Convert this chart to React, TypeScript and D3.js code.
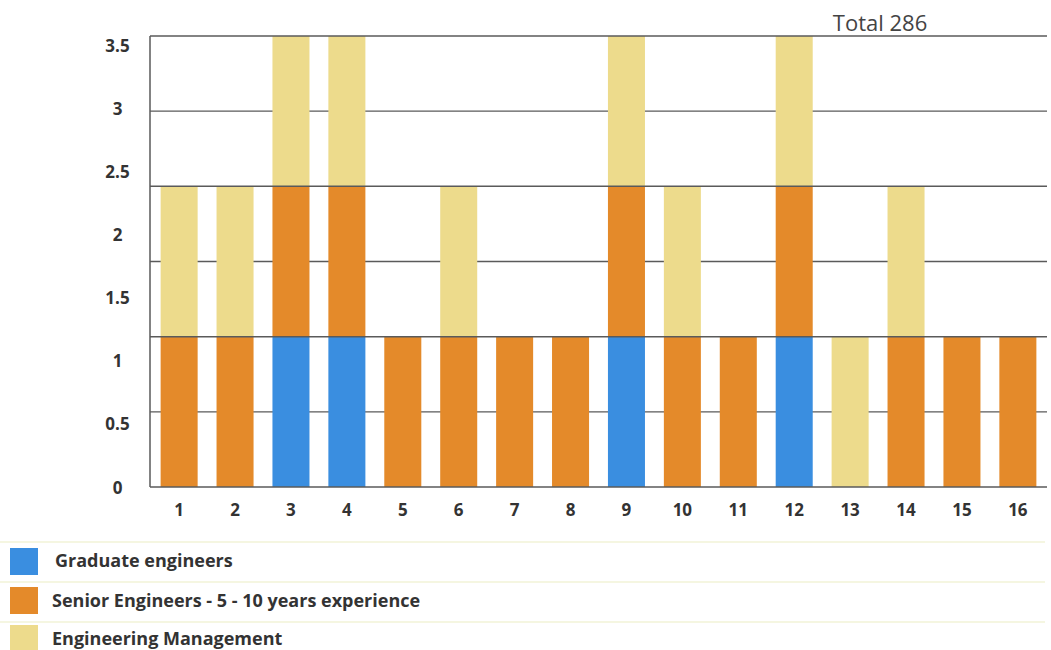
import React from "react";
import * as d3 from "d3";

// Engineers per project, stacked by role
const categories = ["1", "2", "3", "4", "5", "6", "7", "8", "9", "10", "11", "12", "13", "14", "15", "16"];
const graduate = [0, 0, 1, 1, 0, 0, 0, 0, 1, 0, 0, 1, 0, 0, 0, 0];
const senior = [1, 1, 1, 1, 1, 1, 1, 1, 1, 1, 1, 1, 0, 1, 1, 1];
const management = [1, 1, 1, 1, 0, 1, 0, 0, 1, 1, 0, 1, 1, 1, 0, 0];

const seriesKeys = ["graduate", "senior", "management"];
const seriesNames = ["Graduate engineers", "Senior Engineers - 5 - 10 years experience", "Engineering Management"];
const seriesColors = ["#3a8ee0", "#e48a2a", "#eddb8c"];

const yTickLabels = [0, 0.5, 1, 1.5, 2, 2.5, 3, 3.5];
const gridValues = [0, 0.5, 1, 1.5, 2, 2.5, 3];
const totalLabel = "Total 286";

const W = 1051;
const H = 650;
const left = 150;
const right = 1047;
const bottom = 487;
const top = 36;

const FONT = "'Open Sans', Roboto, 'DejaVu Sans', sans-serif";

export default function App() {
  const rows = categories.map((c, i) => ({
    cat: c,
    graduate: graduate[i],
    senior: senior[i],
    management: management[i],
  }));
  const stacked = d3.stack<any>().keys(seriesKeys)(rows);

  const x = d3.scaleBand().domain(categories).range([left, right]).paddingInner(0.338).paddingOuter(0.19);
  const y = d3.scaleLinear().domain([0, 3]).range([bottom, top]);
  const yLabel = d3.scaleLinear().domain([0, 3.5]).range([bottom, 45]);

  const halfLines = gridValues.filter((v) => v % 1 !== 0);
  const wholeLines = gridValues.filter((v) => v % 1 === 0);

  const legendTop = [548, 587, 625];
  const legendText = [567, 607, 645];
  const legendTextX = [55, 52, 52];
  const separators = [542, 582, 622];

  return (
    <svg width={W} height={H} style={{ position: "absolute", left: 0, top: 0, background: "#ffffff" }}>
      {/* half-step gridlines sit behind the bars */}
      {halfLines.map((v) => (
        <line key={"h" + v} x1={left} x2={right} y1={y(v)} y2={y(v)} stroke="#5a5a5a" strokeWidth={1.4} />
      ))}
      {stacked.map((s, si) => (
        <g key={s.key} fill={seriesColors[si]}>
          {s.map((d, i) =>
            d[1] - d[0] > 0 ? (
              <rect
                key={i}
                x={x(categories[i])}
                width={x.bandwidth()}
                y={y(d[1])}
                height={y(d[0]) - y(d[1])}
              />
            ) : null
          )}
        </g>
      ))}
      {/* whole-unit gridlines drawn over the bars */}
      {wholeLines.map((v) => (
        <line key={"w" + v} x1={left} x2={right} y1={y(v)} y2={y(v)} stroke="#5a5a5a" strokeWidth={1.5} />
      ))}
      <line x1={left} x2={left} y1={top} y2={bottom} stroke="#5a5a5a" strokeWidth={1.5} />

      {yTickLabels.map((v) => (
        <text
          key={"yl" + v}
          x={117.5}
          y={yLabel(v)}
          textAnchor="middle"
          dominantBaseline="central"
          fontFamily={FONT}
          fontWeight={700}
          fontSize={17}
          fill="#333"
        >
          {v}
        </text>
      ))}
      {categories.map((c) => (
        <text
          key={"xl" + c}
          x={(x(c) as number) + x.bandwidth() / 2}
          y={509}
          textAnchor="middle"
          dominantBaseline="central"
          fontFamily={FONT}
          fontWeight={700}
          fontSize={17}
          fill="#333"
        >
          {c}
        </text>
      ))}

      <text x={880} y={31} textAnchor="middle" fontFamily={FONT} fontSize={22} fill="#444">
        {totalLabel}
      </text>

      {separators.map((sy, i) => (
        <line key={"sep" + i} x1={0} x2={1045} y1={sy} y2={sy} stroke="#eceec4" strokeWidth={1.2} />
      ))}
      {seriesNames.map((name, i) => (
        <g key={name}>
          <rect x={10} y={legendTop[i]} width={28} height={27} fill={seriesColors[i]} />
          <text
            x={legendTextX[i]}
            y={legendText[i]}
            fontFamily={FONT}
            fontWeight={700}
            fontSize={18}
            fill="#333"
          >
            {name}
          </text>
        </g>
      ))}
    </svg>
  );
}
